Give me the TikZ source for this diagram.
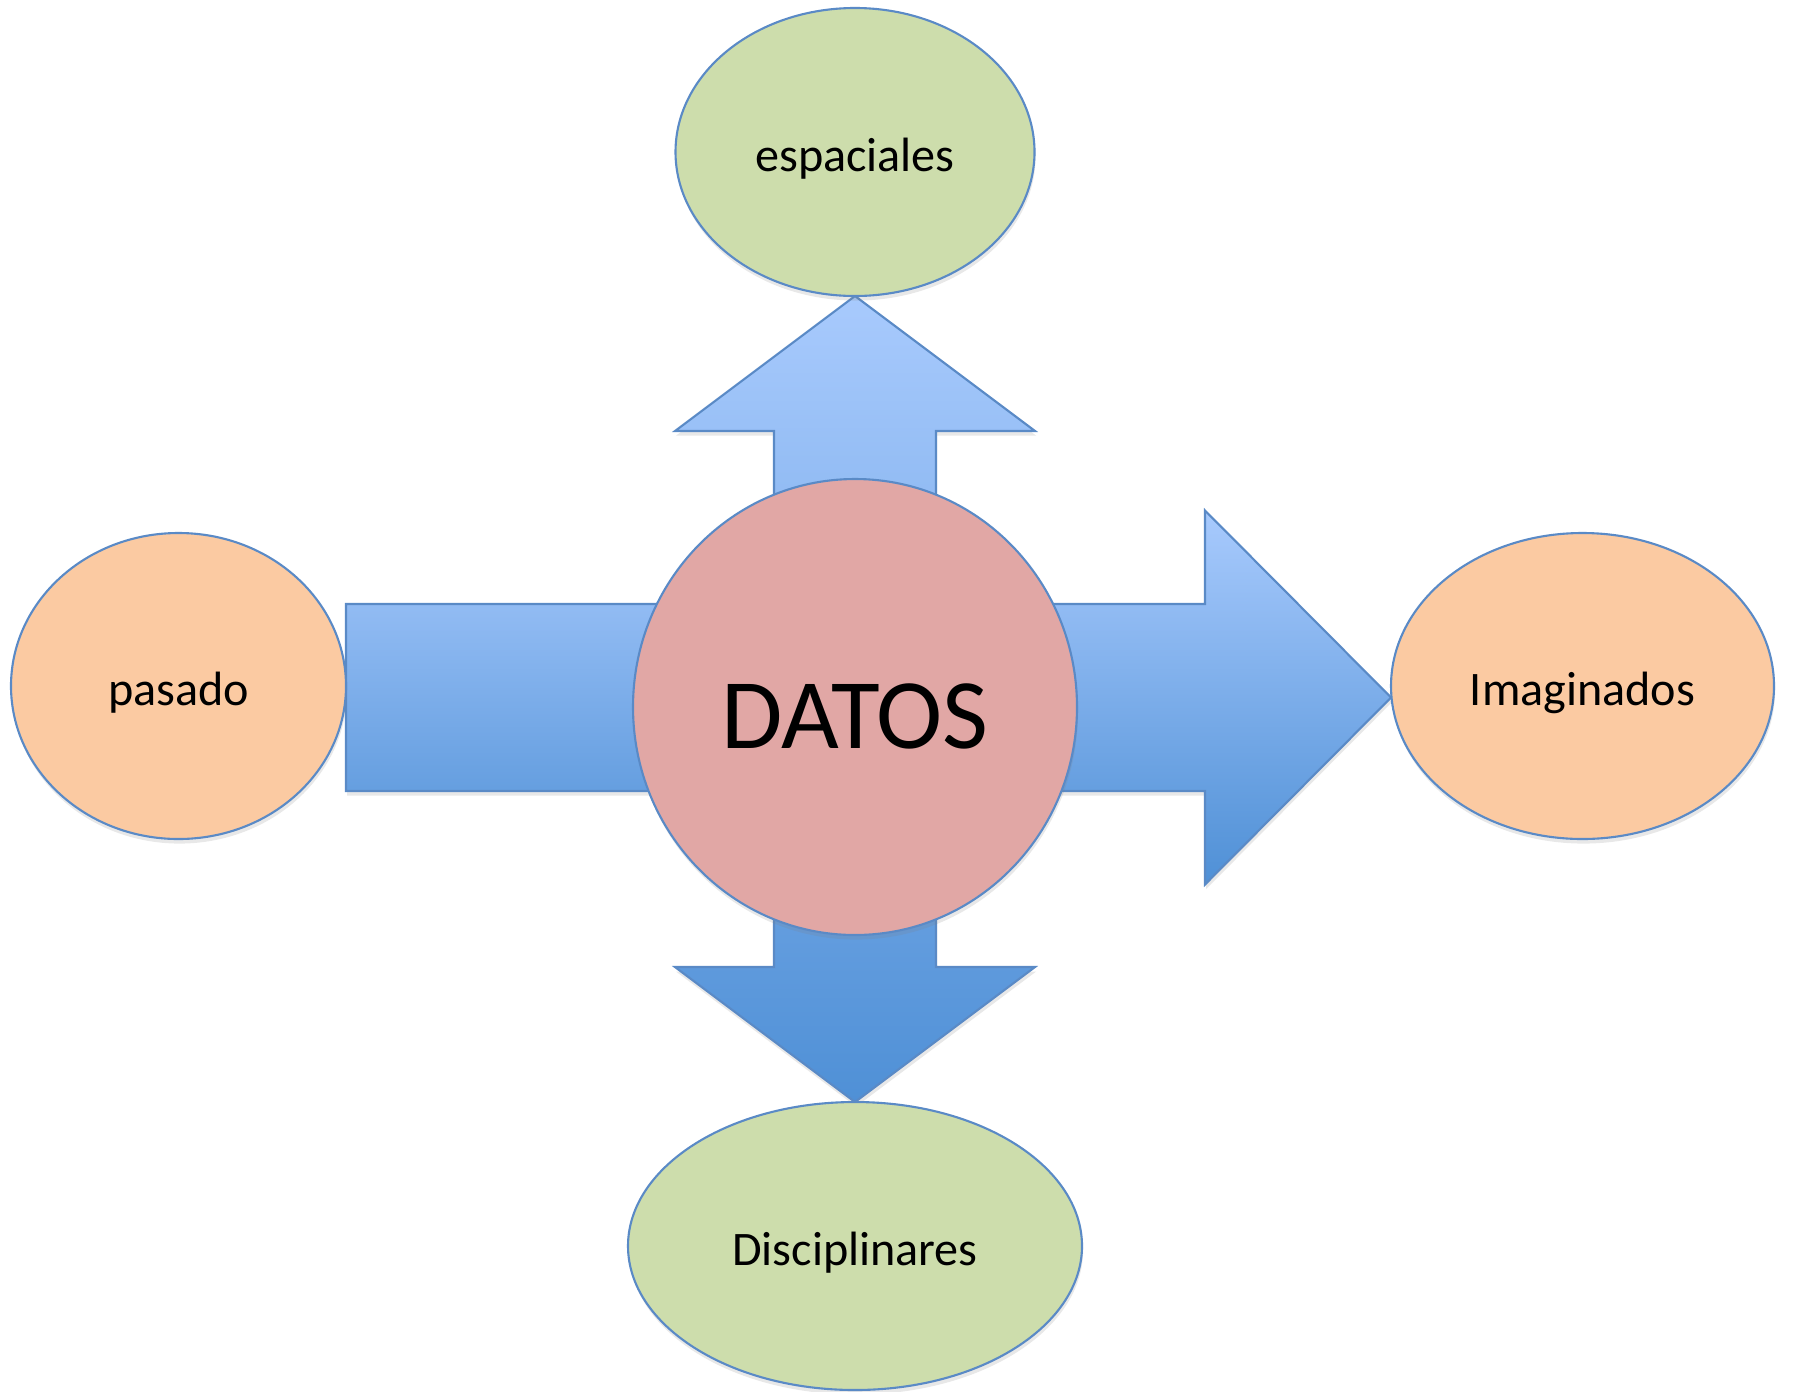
\documentclass[tikz,border=0pt]{standalone}
\usepackage{fontspec}
\setmainfont{Carlito}
\usetikzlibrary{shapes.geometric, positioning, calc, shadows}
\definecolor{data_outline}{HTML}{5A8AC6}
\definecolor{data_green}{HTML}{CDDDAC}
\definecolor{data_peach}{HTML}{FBCAA2}
\definecolor{data_rose}{HTML}{E1A7A5}
\definecolor{flow_light}{HTML}{A8CAFD}
\definecolor{flow_dark}{HTML}{4F90D6}
\tikzset{
  softshadow/.style={drop shadow={opacity=.18,shadow xshift=.3pt,shadow yshift=-1.3pt}},
  topic/.style={ellipse,draw=data_outline,line width=.6pt,inner sep=0pt,outer sep=0pt,text height=.44cm,text depth=.05cm,font=\fontsize{13.7pt}{16pt}\selectfont,softshadow},
  topic_v/.style={topic,fill=data_green,minimum height=2.88cm},
  topic_h/.style={topic,fill=data_peach,minimum height=3.06cm},
  core/.style={ellipse,draw=data_outline,line width=.6pt,fill=data_rose,inner sep=0pt,outer sep=0pt,minimum width=4.44cm,minimum height=4.56cm,text height=.9cm,text depth=.08cm,font=\fontsize{28.4pt}{32pt}\selectfont,softshadow},
  flow/.style={draw=data_outline,line width=.6pt,line join=miter,top color=flow_light,bottom color=flow_dark,softshadow},
}
\pgfdeclarelayer{back}
\pgfsetlayers{back,main}
\begin{document}
\begin{tikzpicture}
	    \useasboundingbox (0,0) rectangle (17.93,-13.91);
	    \node[core] (datos) at (8.55,-7.07) {DATOS};
	    \node[topic_v,minimum width=3.59cm,above=1.83cm of datos] (espaciales) {espaciales};
	    \node[topic_v,minimum width=4.54cm,below=1.67cm of datos] (disciplinares) {Disciplinares};
	    \node[topic_h,minimum width=3.35cm,left=2.87cm of datos,yshift=.21cm] (pasado) {pasado};
	    \node[topic_h,minimum width=3.83cm,right=3.14cm of datos,yshift=.21cm] (imaginados) {Imaginados};
	    \begin{pgfonlayer}{back}
	    % block arrows behind the circle
	    \coordinate (h_tail) at ($(pasado.east)+(0,-.115)$);
	    \coordinate (h_tip) at ($(imaginados.west)+(0,-.115)$);
	    \path[flow] (h_tail) ++(0,.935) -- ($(h_tip)+(-1.86,.935)$) -- ++(0,.935) -- (h_tip) -- ++(-1.86,-1.87) -- ++(0,.935) -- ($(h_tail)+(0,-.935)$) -- cycle;
	    \path[flow] (espaciales.south) -- ++(1.80,-1.35) -- ++(-.99,0) -- ($(disciplinares.north)+(.81,1.35)$) -- ++(.99,0) -- (disciplinares.north) -- ++(-1.80,1.35) -- ++(.99,0) -- ($(espaciales.south)+(-.81,-1.35)$) -- ++(-.99,0) -- cycle;
	    \end{pgfonlayer}
	\end{tikzpicture}
\end{document}
